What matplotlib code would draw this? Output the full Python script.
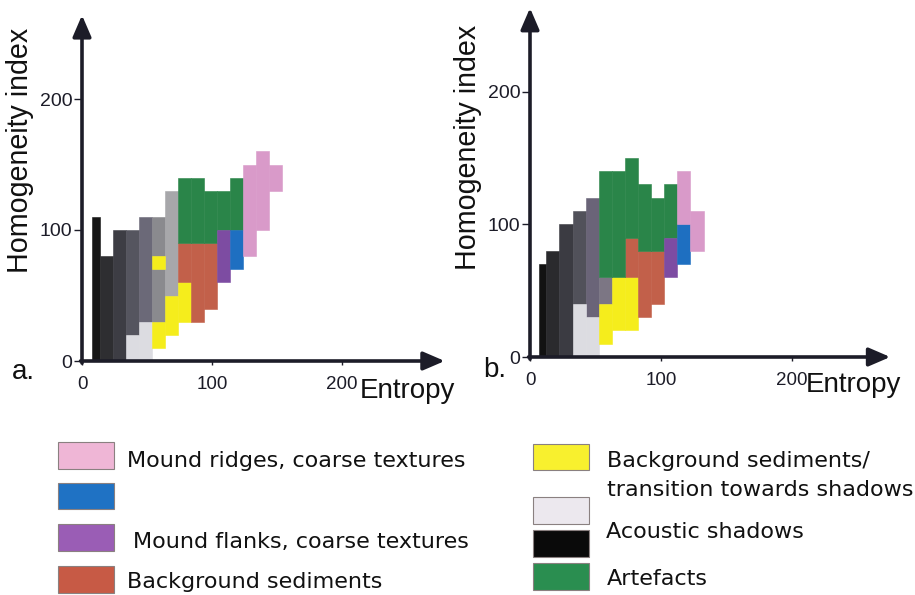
import matplotlib
matplotlib.use("Agg")
import matplotlib.pyplot as plt
from matplotlib.patches import Rectangle

W, H = 915, 595

# cells: (entropy_lo, entropy_hi, homogeneity_lo, homogeneity_hi)
# panel a
A_GRAYS = [
    (7.5, 13.5, 0, 110), (13.5, 23.5, 0, 80), (23.5, 33.5, 0, 100),
    (33.5, 43.5, 20, 100), (43.5, 53.5, 30, 110),
    (53.5, 63.5, 30, 70), (53.5, 63.5, 80, 110), (63.5, 73.5, 50, 130),
]
A_GRAY_SHADES = ["#161616", "#2e2e31", "#3d3d44", "#55555f", "#6b6978",
                 "#8a8a8e", "#8a8a8e", "#a7a7aa"]
A_LIGHT = [(33.5, 43.5, 0, 20), (43.5, 53.5, 0, 30)]
A_YELLOW = [(53.5, 63.5, 10, 30), (53.5, 63.5, 70, 80), (63.5, 73.5, 20, 50), (73.5, 83.5, 30, 60)]
A_RED = [(73.5, 83.5, 60, 90), (83.5, 93.5, 30, 90), (93.5, 103.5, 40, 90)]
A_GREEN = [(73.5, 83.5, 90, 140), (83.5, 93.5, 90, 140), (93.5, 103.5, 90, 130),
           (103.5, 113.5, 100, 130), (113.5, 123.5, 100, 140)]
A_PURPLE = [(103.5, 113.5, 60, 100)]
A_BLUE = [(113.5, 123.5, 70, 100)]
A_PINK = [(123.5, 133.5, 80, 150), (133.5, 143.5, 100, 160), (143.5, 153.5, 130, 150)]

# panel b
B_GRAYS = [
    (6.5, 12.5, 0, 70), (12.5, 22.5, 0, 80), (22.5, 32.5, 0, 100),
    (32.5, 42.5, 40, 110), (42.5, 52.5, 30, 120), (52.5, 62.5, 40, 60),
]
B_GRAY_SHADES = ["#121212", "#2a2a2d", "#3b3b42", "#51515a", "#6a6478", "#7c7684"]
B_LIGHT = [(32.5, 42.5, 0, 40), (42.5, 52.5, 0, 30)]
B_YELLOW = [(52.5, 62.5, 10, 40), (62.5, 72.5, 20, 60), (72.5, 82.5, 20, 60)]
B_RED = [(72.5, 82.5, 60, 90), (82.5, 92.5, 30, 80), (92.5, 102.5, 40, 80)]
B_GREEN = [(52.5, 62.5, 60, 140), (62.5, 72.5, 60, 140), (72.5, 82.5, 90, 150),
           (82.5, 92.5, 80, 130), (92.5, 102.5, 80, 120), (102.5, 112.5, 90, 130)]
B_PURPLE = [(102.5, 112.5, 60, 90)]
B_BLUE = [(112.5, 122.5, 70, 100)]
B_PINK = [(112.5, 122.5, 100, 140), (122.5, 132.5, 80, 110)]

TICKS = [0, 100, 200]

LEGEND_LEFT = ["Mound ridges, coarse textures", "", "Mound flanks, coarse textures", "Background sediments"]
LEGEND_RIGHT = ["Background sediments/\ntransition towards shadows", "", "Acoustic shadows", "Artefacts"]

C_PINK = "#d99ac9"
C_BLUE = "#1e6fc1"
C_PURPLE = "#7d4ca2"
C_RED = "#c2604a"
C_YELLOW = "#f5ed1c"
C_GREEN = "#2a8549"
C_LIGHT = "#dcdce1"
AXIS_COLOR = "#1c1c28"

AX_FONT = "Liberation Sans"
LEG_FONT = "DejaVu Sans"


def draw_cells(ax, cells, colors):
    if isinstance(colors, str):
        colors = [colors] * len(cells)
    for (x0, x1, y0, y1), c in zip(cells, colors):
        ax.bar(x0, y1 - y0, width=x1 - x0, bottom=y0, align="edge",
               color=c, edgecolor=c, linewidth=0.4)


def setup_panel(fig, origin_px, sx, sy, xmax, ymax):
    ox, oy = origin_px
    ax = fig.add_axes([ox / W, (H - oy) / H, xmax * sx / W, ymax * sy / H])
    ax.set_xlim(0, xmax)
    ax.set_ylim(0, ymax)
    for s in ax.spines.values():
        s.set_visible(False)
    ax.set_xticks(TICKS)
    ax.set_yticks(TICKS)
    ax.set_xticklabels([str(t) for t in TICKS], fontfamily=AX_FONT, fontsize=13.5)
    ax.set_yticklabels([str(t) for t in TICKS], fontfamily=AX_FONT, fontsize=14)
    ax.tick_params(axis="y", length=6, width=1, pad=1, colors=AXIS_COLOR)
    ax.tick_params(axis="x", length=3, width=1, pad=8, colors=AXIS_COLOR)
    ax.patch.set_alpha(0)
    arrow = dict(arrowstyle="-|>,head_length=0.65,head_width=0.28", lw=2.6,
                 color=AXIS_COLOR, mutation_scale=20, shrinkA=0, shrinkB=0)
    ax.annotate("", xy=(1, 0), xytext=(-0.004, 0), xycoords="axes fraction",
                arrowprops=arrow, annotation_clip=False)
    ax.annotate("", xy=(0, 1), xytext=(0, -0.006), xycoords="axes fraction",
                arrowprops=arrow, annotation_clip=False)
    return ax


def ftext(fig, x, y, s, **kw):
    fig.text(x / W, 1 - y / H, s, **kw)


def fbox(fig, x0, y0, x1, y1, color):
    fig.patches.append(Rectangle((x0 / W, 1 - y1 / H), (x1 - x0) / W, (y1 - y0) / H,
                                 transform=fig.transFigure, facecolor=color,
                                 edgecolor="#8a8080", linewidth=0.8))


def main():
    fig = plt.figure(figsize=(W / 100, H / 100), dpi=100)

    ax_a = setup_panel(fig, (82, 361), 1.3, 1.31, 279, 264)
    draw_cells(ax_a, A_GRAYS, A_GRAY_SHADES)
    draw_cells(ax_a, A_LIGHT, C_LIGHT)
    draw_cells(ax_a, A_YELLOW, C_YELLOW)
    draw_cells(ax_a, A_RED, C_RED)
    draw_cells(ax_a, A_GREEN, C_GREEN)
    draw_cells(ax_a, A_PURPLE, C_PURPLE)
    draw_cells(ax_a, A_BLUE, C_BLUE)
    draw_cells(ax_a, A_PINK, C_PINK)

    ax_b = setup_panel(fig, (530, 357), 1.31, 1.327, 275, 263)
    draw_cells(ax_b, B_GRAYS, B_GRAY_SHADES)
    draw_cells(ax_b, B_LIGHT, C_LIGHT)
    draw_cells(ax_b, B_YELLOW, C_YELLOW)
    draw_cells(ax_b, B_RED, C_RED)
    draw_cells(ax_b, B_GREEN, C_GREEN)
    draw_cells(ax_b, B_PURPLE, C_PURPLE)
    draw_cells(ax_b, B_BLUE, C_BLUE)
    draw_cells(ax_b, B_PINK, C_PINK)

    # axis titles and panel letters
    lab = dict(fontfamily=AX_FONT, fontsize=20, color="#111111")
    ylab = dict(lab, fontsize=20.6)
    ftext(fig, 20, 150, "Homogeneity index", rotation=90, ha="center", va="center", **ylab)
    ftext(fig, 468, 147, "Homogeneity index", rotation=90, ha="center", va="center", **ylab)
    ftext(fig, 360, 398, "Entropy", ha="left", va="baseline", **lab)
    ftext(fig, 806, 392, "Entropy", ha="left", va="baseline", **lab)
    ftext(fig, 12, 379, "a.", ha="left", va="baseline", **lab)
    ftext(fig, 483, 377, "b.", ha="left", va="baseline", **lab)

    # legend
    leg = dict(fontfamily=LEG_FONT, fontsize=16, color="#111111", ha="left", va="baseline")
    left_boxes = [(442, 469, "#efb6d6"), (483, 509, "#1f72c4"), (524, 551, "#9a5db5"), (566, 593, "#c75a45")]
    for (y0, y1, c) in left_boxes:
        fbox(fig, 58, y0, 114, y1, c)
    ftext(fig, 127, 467, LEGEND_LEFT[0], **leg)
    ftext(fig, 133, 548, LEGEND_LEFT[2], **leg)
    ftext(fig, 127, 588, LEGEND_LEFT[3], **leg)

    right_boxes = [(444, 470, "#f8f02e"), (497, 524, "#ece8ee"), (530, 557, "#0a0a0a"), (563, 590, "#2a8e50")]
    for (y0, y1, c) in right_boxes:
        fbox(fig, 533, y0, 589, y1, c)
    top, bottom = LEGEND_RIGHT[0].split("\n")
    ftext(fig, 607, 467, top, **leg)
    ftext(fig, 607, 496, bottom, **leg)
    ftext(fig, 606, 538, LEGEND_RIGHT[2], **leg)
    ftext(fig, 607, 585, LEGEND_RIGHT[3], **leg)

    fig.savefig("out.png", dpi=100)
    plt.close(fig)


if __name__ == "__main__":
    main()
